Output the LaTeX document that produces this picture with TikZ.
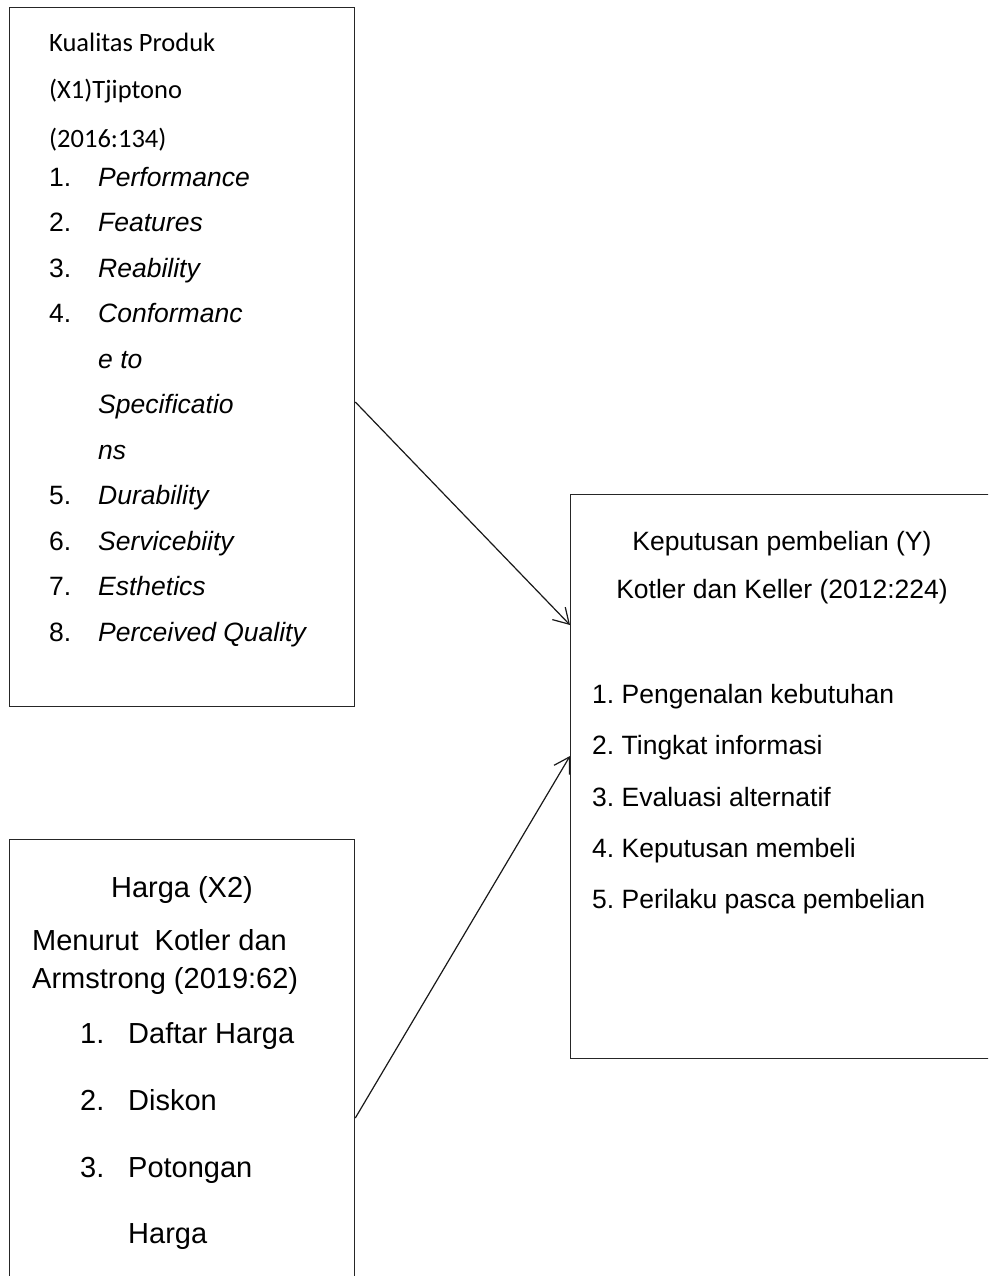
\documentclass[tikz,border=0pt]{standalone}
\usepackage{fontspec}
\setmainfont{Liberation Sans}
\newfontfamily\calfont{Carlito}
\usetikzlibrary{arrows.meta}
\frenchspacing
\begin{document}
\begin{tikzpicture}[x=1pt,y=-1pt,
  box/.style={draw=black!85, line width=1.3pt, rectangle, inner sep=0pt},
  txt/.style={inner sep=0pt, anchor=base west, font=\fontsize{26.5}{32}\selectfont},
  ctxt/.style={txt, anchor=base},
  big/.style={txt, font=\fontsize{29}{35}\selectfont},
  cbig/.style={big, anchor=base},
  cal/.style={txt, font=\calfont\fontsize{26.5}{32}\selectfont},
  arr/.style={-{Straight Barb[length=15pt,width=18pt]}, line width=1.2pt, draw=black!90}]
\useasboundingbox (0,0) rectangle (988,1276);
\clip (0,0) rectangle (988,1276);
\fill[white] (0,0) rectangle (988,1276);
% boxes
\node[box, minimum width=345pt, minimum height=699pt, anchor=north west] (b1) at (9,7) {};
\node[box, minimum width=345pt, minimum height=470pt, anchor=north west] (b2) at (9,839) {};
\node[box, minimum width=424pt, minimum height=564pt, anchor=north west] (b3) at (570,494) {};
% box 1 text
\node[cal] (t11) at (49,52) {Kualitas Produk};
\node[cal] (t12) at (49,99) {(X1)Tjiptono};
\node[cal] (t13) at (49,148) {(2016:134)};
\node[txt] (n1) at (49,186) {1.};   \node[txt] (i1) at (98,186) {\itshape Performance};
\node[txt] (n2) at (49,231.5) {2.}; \node[txt] (i2) at (98,231.5) {\itshape Features};
\node[txt] (n3) at (49,277) {3.};   \node[txt] (i3) at (98,277) {\itshape Reability};
\node[txt] (n4) at (49,322.5) {4.}; \node[txt] (i4a) at (98,322.5) {\itshape Conformanc};
\node[txt] (i4b) at (98,368) {\itshape e to};
\node[txt] (i4c) at (98,413.5) {\itshape Specificatio};
\node[txt] (i4d) at (98,459) {\itshape ns};
\node[txt] (n5) at (49,504.5) {5.}; \node[txt] (i5) at (98,504.5) {\itshape Durability};
\node[txt] (n6) at (49,550) {6.};   \node[txt] (i6) at (98,550) {\itshape Servicebiity};
\node[txt] (n7) at (49,595.5) {7.}; \node[txt] (i7) at (98,595.5) {\itshape Esthetics};
\node[txt] (n8) at (49,641) {8.};   \node[txt] (i8) at (98,641) {\itshape Perceived Quality};
% box 2 text
\node[cbig] (t21) at (182,897) {Harga (X2)};
\node[big] (t22) at (32,950) {Menurut\ \ Kotler dan};
\node[big] (t23) at (32,988) {Armstrong (2019:62)};
\node[big] (m1) at (80,1043) {1.}; \node[big] (j1) at (128,1043) {Daftar Harga};
\node[big] (m2) at (80,1110) {2.}; \node[big] (j2) at (128,1110) {Diskon};
\node[big] (m3) at (80,1177) {3.}; \node[big] (j3a) at (128,1177) {Potongan};
\node[big] (j3b) at (128,1243) {Harga};
% box 3 text
\node[ctxt] (t31) at (782,550) {Keputusan pembelian (Y)};
\node[ctxt] (t32) at (782,598) {Kotler dan Keller (2012:224)};
\node[txt] (k1) at (592,703) {1. Pengenalan kebutuhan};
\node[txt] (k2) at (592,754) {2. Tingkat informasi};
\node[txt] (k3) at (592,806) {3. Evaluasi alternatif};
\node[txt] (k4) at (592,857) {4. Keputusan membeli};
\node[txt] (k5) at (592,908) {5. Perilaku pasca pembelian};
% arrows
\draw[arr] ([yshift=-395pt]b1.north east) -- ([yshift=-131pt]b3.north west);
\draw[arr] ([yshift=-279pt]b2.north east) -- ([yshift=-262pt]b3.north west);
\end{tikzpicture}
\end{document}
